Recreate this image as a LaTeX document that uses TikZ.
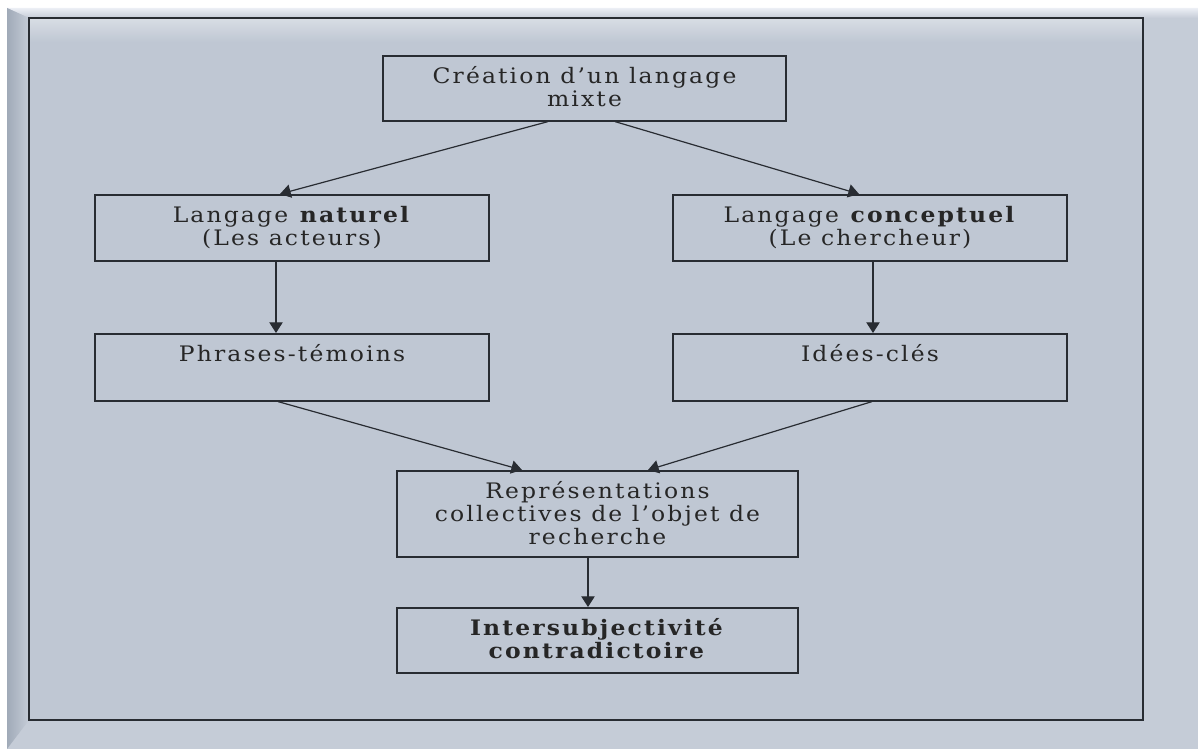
\documentclass[tikz,border=0pt]{standalone}
\usepackage{fontspec}
\setmainfont{DejaVu Serif}[LetterSpace=10,FakeStretch=1.1]
\usetikzlibrary{calc,arrows.meta}
\definecolor{panelfill}{RGB}{191,199,211}
\definecolor{bevelfill}{RGB}{197,204,215}
\definecolor{bevelhi}{RGB}{236,239,245}
\definecolor{bevello}{RGB}{160,170,184}
\definecolor{inkline}{RGB}{40,44,50}

\begin{document}
\begin{tikzpicture}
        [x=0.75pt,y=-0.75pt,
        stage/.style={shape=rectangle,draw=inkline,line width=1.2pt,anchor=north,
          align=center,inner ysep=8.5pt,text height=12pt,text=black!85,
          font=\fontsize{16}{17.25}\selectfont,minimum width=#1},
        stage/.default=295.5pt,
        link/.style={-{Triangle[length=8pt,width=10pt]},draw=inkline,line width=0.9pt}]
        \useasboundingbox (0,0) rectangle (1198,749);
        %% frame
        \fill[white] (0,0) rectangle (1198,749);
        \fill[bevelfill] (7,8) rectangle (1198,749);
        \shade[top color=bevelhi,bottom color=bevelfill] (7,8) -- (1198,8) -- (1198,18) -- (29,18) -- cycle;
        \shade[left color=bevello,right color=bevelfill] (7,8) -- (29,18) -- (29,720) -- (7,749) -- cycle;
        \fill[panelfill] (29,18) rectangle (1143,720);
        \shade[top color=panelfill!60!white,bottom color=panelfill] (29,18) rectangle (1143,42);
        \draw[inkline,line width=1.4pt] (29,18) rectangle (1143,720);
        %% boxes (two lines: text height 29.25pt, three lines: 46.5pt)
        \node[stage=302.25pt,text height=29.25pt,text depth=2.5pt] (mix) at (584.5,55) {Création d’un langage\\mixte};
        %%
        \node[stage,text height=29.25pt,text depth=3.25pt] (nat) at (292,194) {Langage \textbf{naturel}\\(Les acteurs)};
        \node[stage,text height=29.25pt,text depth=3.25pt] (conc) at (870,194) {Langage \textbf{conceptuel}\\(Le chercheur)};
        %%
        \node[stage,text depth=21.25pt] (phr) at (292,333) {Phrases-témoins};
        \node[stage,text depth=21.25pt] (idee) at (870,333) {Idées-clés};
        %%
        \node[stage=300.75pt,text height=46.5pt,text depth=1pt] (rep) at (597.5,470) {Représentations\\collectives de l’objet de\\recherche};
        \node[stage=300.75pt,text height=29.25pt,text depth=2.5pt] (inter) at (597.5,607) {\textbf{Intersubjectivité}\\\textbf{contradictoire}};
        \path
        \foreach \startNode/\startShift/\endNode/\endShift in
          {mix/-36.5/nat/-12, mix/30.5/conc/-11, nat/-16/phr/-16, conc/3/idee/3,
           phr/-14/rep/-75.5, idee/2/rep/50.5, rep/-9.5/inter/-9.5}
        {
          ($(\startNode.south)+(\startShift,0)$) edge[link] ($(\endNode.north)+(\endShift,0)$)
        };
\end{tikzpicture}
\end{document}
